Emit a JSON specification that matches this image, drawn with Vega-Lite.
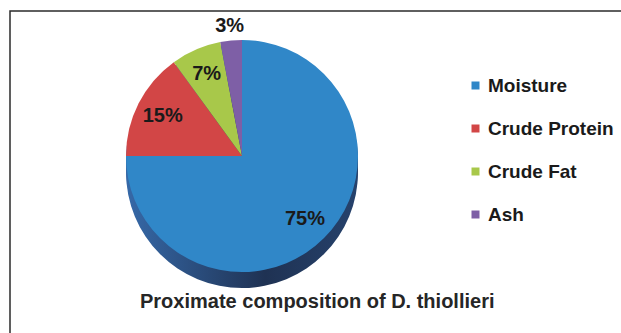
{
  "$schema": "https://vega.github.io/schema/vega-lite/v6.json",
  "autosize": {"type": "none"},
  "padding": {"left": 10, "top": 11, "right": 0, "bottom": 0},
  "width": 630,
  "height": 340,
  "background": "white",
  "config": {
    "view": {"stroke": "#2b2b2b", "strokeWidth": 1.5},
    "font": "Liberation Sans"
  },
  "title": {
    "text": "Proximate composition of D. thiollieri",
    "orient": "bottom",
    "anchor": "start",
    "offset": -59,
    "dx": 130,
    "fontSize": 20,
    "fontWeight": "bold",
    "color": "#262626",
    "font": "Liberation Sans"
  },
  "data": {
    "values": [
      {"category": "Moisture", "value": 0.75, "ord": 1},
      {"category": "Crude Protein", "value": 0.15, "ord": 2},
      {"category": "Crude Fat", "value": 0.07, "ord": 3},
      {"category": "Ash", "value": 0.03, "ord": 4}
    ]
  },
  "layer": [
    {
      "mark": {"type": "arc", "outerRadius": 116, "yOffset": 4,
        "fill": {"gradient": "linear", "x1": 0, "y1": 0, "x2": 1, "y2": 0,
          "stops": [{"offset": 0, "color": "#3669a8"}, {"offset": 0.6, "color": "#1f3253"}, {"offset": 1, "color": "#26426c"}]}},
      "encoding": {
        "x": {"value": 232}, "y": {"value": 145},
        "theta": {"field": "value", "type": "quantitative", "stack": true},
        "order": {"field": "ord", "type": "quantitative"}
      }
    },
    {
      "mark": {"type": "arc", "outerRadius": 116, "yOffset": 8,
        "fill": {"gradient": "linear", "x1": 0, "y1": 0, "x2": 1, "y2": 0,
          "stops": [{"offset": 0, "color": "#3669a8"}, {"offset": 0.6, "color": "#1f3253"}, {"offset": 1, "color": "#26426c"}]}},
      "encoding": {
        "x": {"value": 232}, "y": {"value": 145},
        "theta": {"field": "value", "type": "quantitative", "stack": true},
        "order": {"field": "ord", "type": "quantitative"}
      }
    },
    {
      "mark": {"type": "arc", "outerRadius": 116, "yOffset": 12,
        "fill": {"gradient": "linear", "x1": 0, "y1": 0, "x2": 1, "y2": 0,
          "stops": [{"offset": 0, "color": "#3669a8"}, {"offset": 0.6, "color": "#1f3253"}, {"offset": 1, "color": "#26426c"}]}},
      "encoding": {
        "x": {"value": 232}, "y": {"value": 145},
        "theta": {"field": "value", "type": "quantitative", "stack": true},
        "order": {"field": "ord", "type": "quantitative"}
      }
    },
    {
      "mark": {"type": "arc", "outerRadius": 116, "yOffset": 16,
        "fill": {"gradient": "linear", "x1": 0, "y1": 0, "x2": 1, "y2": 0,
          "stops": [{"offset": 0, "color": "#3669a8"}, {"offset": 0.6, "color": "#1f3253"}, {"offset": 1, "color": "#26426c"}]}},
      "encoding": {
        "x": {"value": 232}, "y": {"value": 145},
        "theta": {"field": "value", "type": "quantitative", "stack": true},
        "order": {"field": "ord", "type": "quantitative"}
      }
    },
    {
      "mark": {"type": "arc", "outerRadius": 116},
      "encoding": {
        "x": {"value": 232}, "y": {"value": 145},
        "theta": {"field": "value", "type": "quantitative", "stack": true},
        "order": {"field": "ord", "type": "quantitative"},
        "color": {
          "field": "category", "type": "nominal",
          "scale": {
            "domain": ["Moisture", "Crude Protein", "Crude Fat", "Ash"],
            "range": ["#3087c8", "#d24646", "#a8c84a", "#7e5fa6"]
          },
          "legend": {
            "title": null,
            "orient": "none",
            "legendX": 456,
            "legendY": 65,
            "symbolType": "square",
            "symbolSize": 64,
            "symbolStrokeWidth": 0,
            "labelFontSize": 19,
            "labelFontWeight": "bold",
            "labelFont": "Liberation Sans",
            "labelColor": "#1a1a1a",
            "labelOffset": 3,
            "rowPadding": 23,
            "labelLimit": 300
          }
        }
      }
    },
    {
      "mark": {"type": "text", "radius": 89, "fontSize": 20, "fontWeight": "bold", "font": "Liberation Sans", "color": "#1a1a1a"},
      "encoding": {
        "x": {"value": 232}, "y": {"value": 145},
        "theta": {"field": "value", "type": "quantitative", "stack": true},
        "order": {"field": "ord", "type": "quantitative"},
        "text": {"condition": {"test": "datum.value >= 0.05", "field": "value", "type": "quantitative", "format": ".0%"}, "value": ""}
      }
    },
    {
      "mark": {"type": "text", "radius": 131, "fontSize": 20, "fontWeight": "bold", "font": "Liberation Sans", "color": "#1a1a1a"},
      "encoding": {
        "x": {"value": 232}, "y": {"value": 145},
        "theta": {"field": "value", "type": "quantitative", "stack": true},
        "order": {"field": "ord", "type": "quantitative"},
        "text": {"condition": {"test": "datum.value < 0.05", "field": "value", "type": "quantitative", "format": ".0%"}, "value": ""}
      }
    }
  ]
}
